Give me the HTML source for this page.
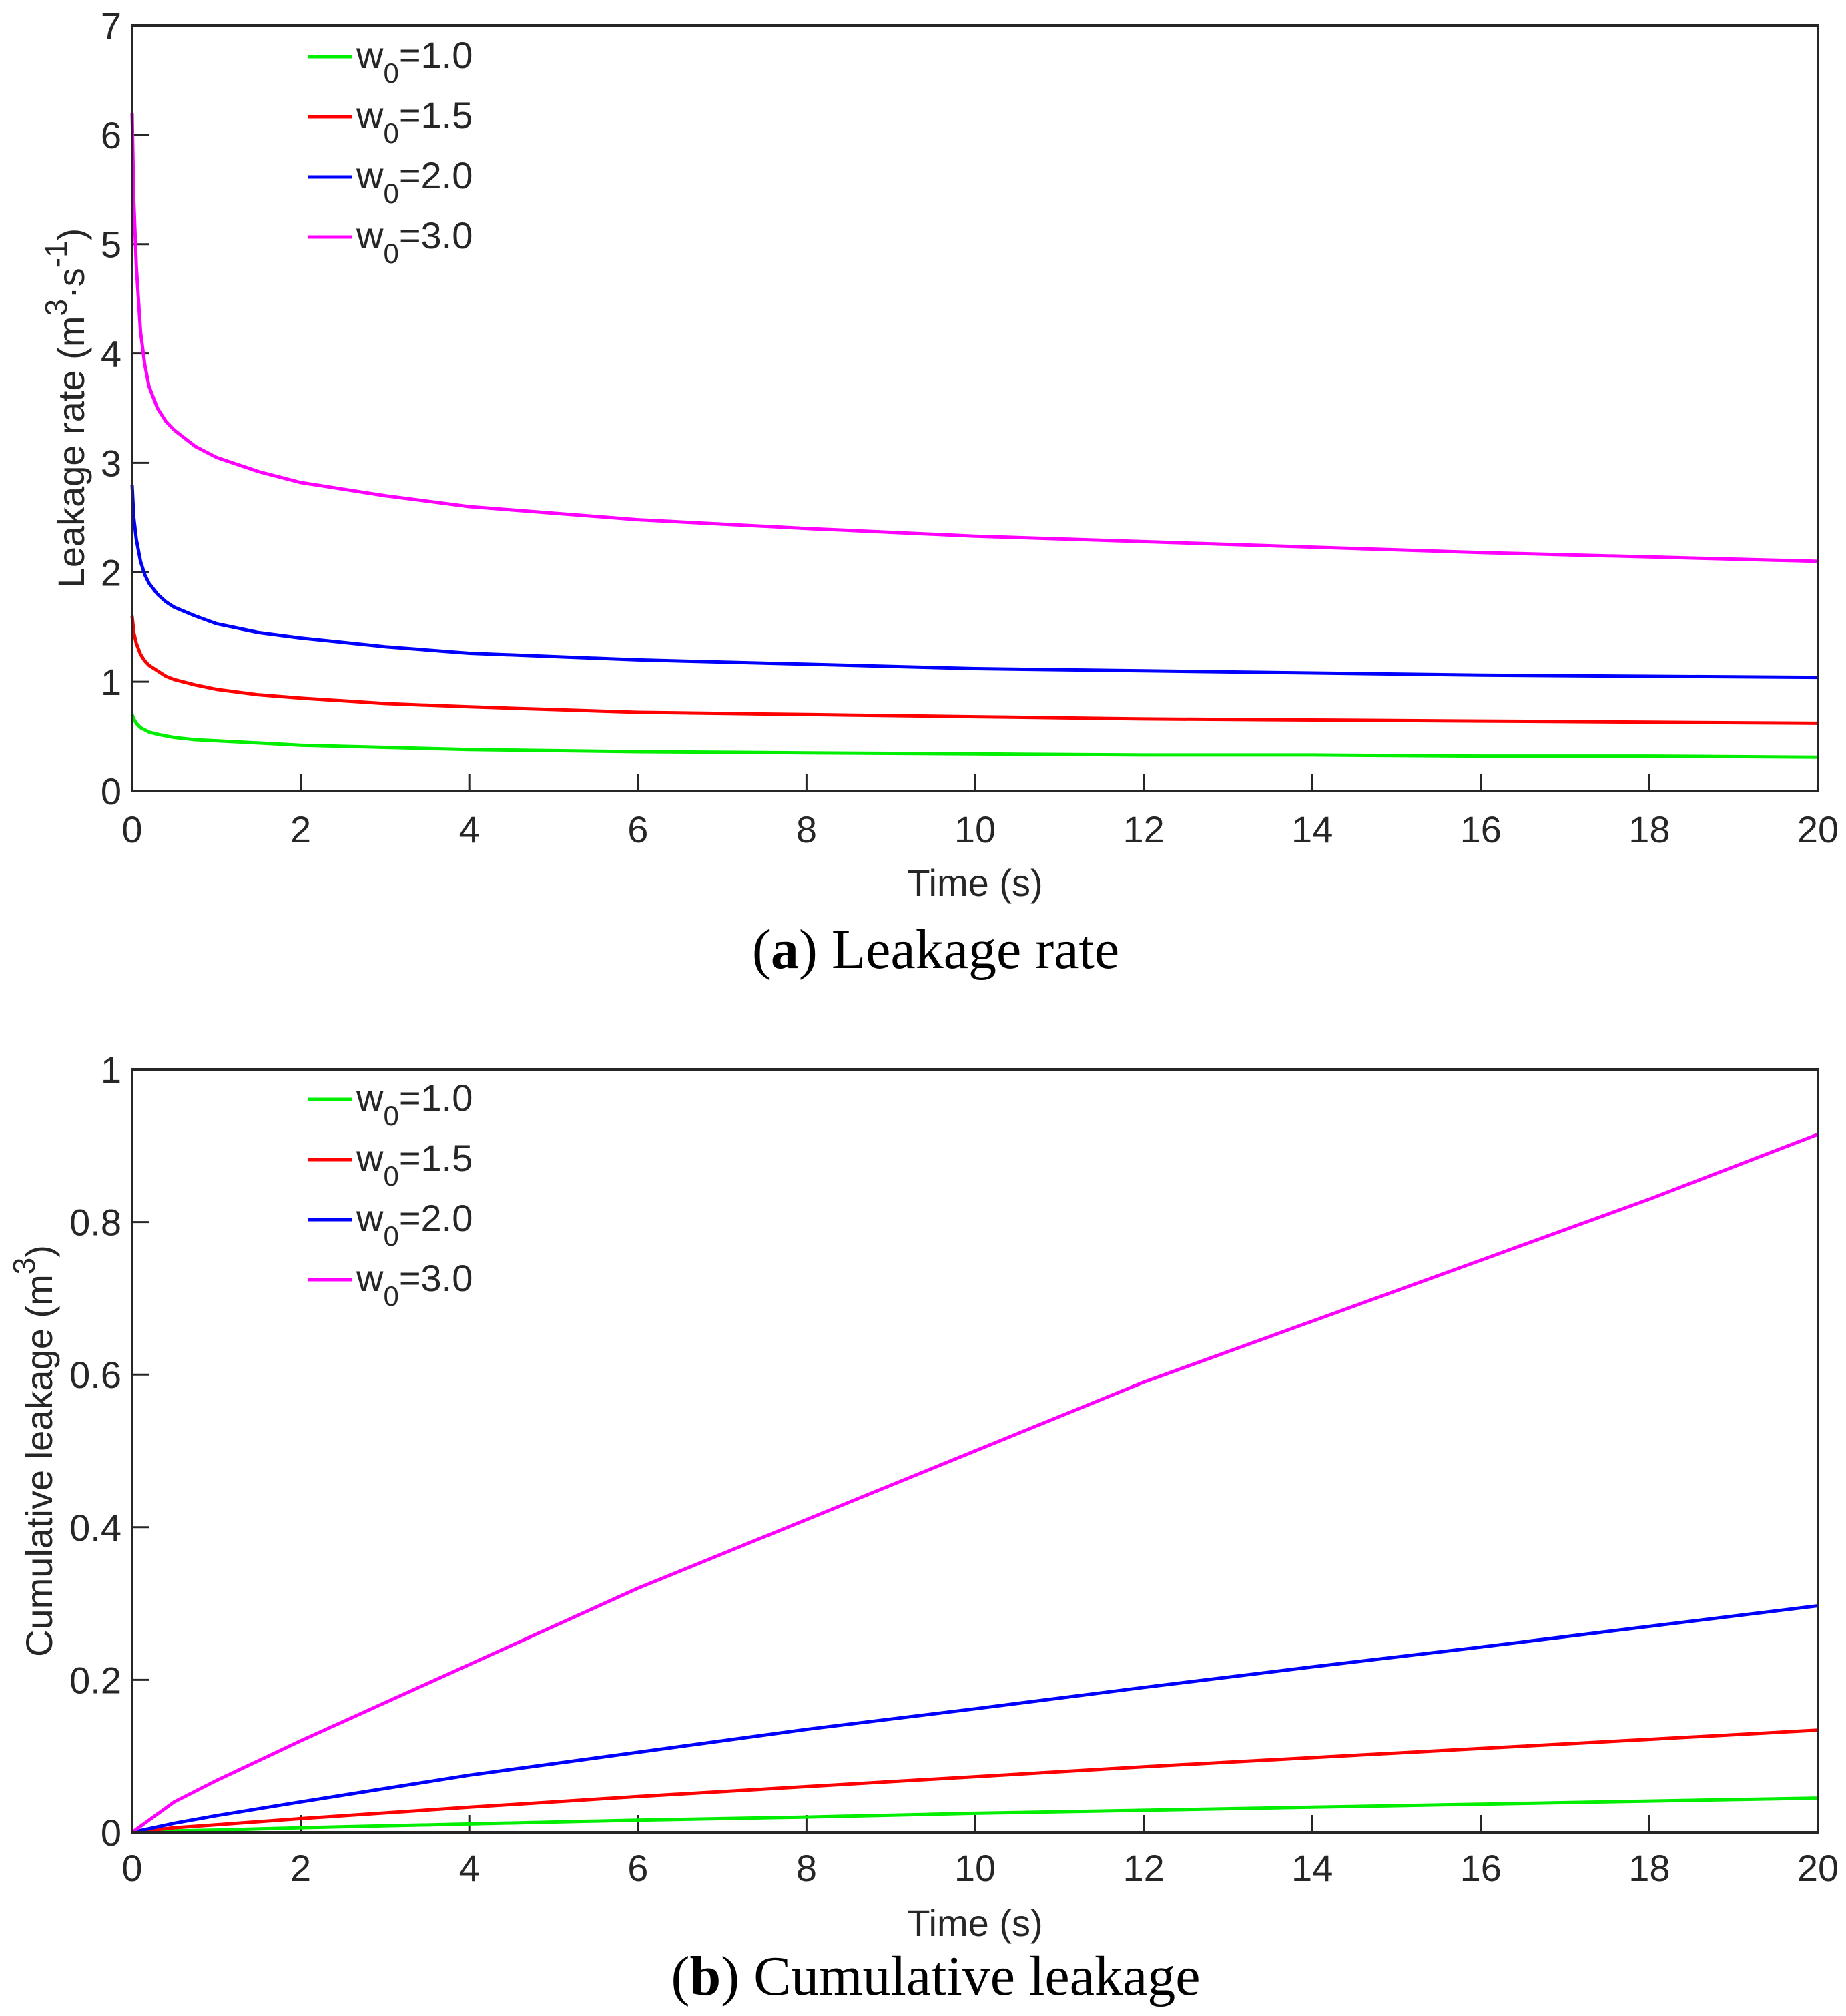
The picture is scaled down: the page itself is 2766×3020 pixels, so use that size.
<!DOCTYPE html>
<html><head><meta charset="utf-8"><style>
html,body{margin:0;padding:0;background:#fff;}
svg{display:block;font-family:"Liberation Sans",Arial,sans-serif;}
.tk{font-size:56px;fill:#262626;}
.cap{font-family:"Liberation Serif",serif;font-size:84px;fill:#000;}
</style></head><body>
<svg id="fig" width="2766" height="3020" viewBox="0 0 2766 3020">
<g id="pa"></g>
<g id="pb"></g>
<text class="cap" x="1402" y="1450" text-anchor="middle">(<tspan font-weight="bold">a</tspan>) Leakage rate</text>
<text class="cap" x="1402" y="2988" text-anchor="middle">(<tspan font-weight="bold">b</tspan>) Cumulative leakage</text>
</svg>
<script>
const seriesNames = ["w0=1.0","w0=1.5","w0=2.0","w0=3.0"];
const seriesColors = ["#00ee00","#ff0000","#0000ff","#ff00ff"];
const xTicks = [0,2,4,6,8,10,12,14,16,18,20];
const yTicksA = [0,1,2,3,4,5,6,7];
const yTicksB = [0,0.2,0.4,0.6,0.8,1];
const yTickLabelsB = ["0","0.2","0.4","0.6","0.8","1"];
const timeA = [0,0.02,0.05,0.1,0.15,0.2,0.3,0.4,0.5,0.75,1,1.5,2,3,4,6,8,10,12,14,16,18,20];
const rateG = [0.7,0.66,0.62,0.58,0.56,0.54,0.52,0.505,0.49,0.47,0.46,0.44,0.42,0.4,0.38,0.36,0.35,0.34,0.33,0.33,0.32,0.32,0.31];
const rateR = [1.6,1.45,1.35,1.25,1.19,1.15,1.1,1.05,1.02,0.97,0.93,0.88,0.85,0.8,0.77,0.72,0.7,0.68,0.66,0.65,0.64,0.63,0.62];
const rateB = [2.8,2.5,2.3,2.1,1.98,1.9,1.8,1.73,1.68,1.6,1.53,1.45,1.4,1.32,1.26,1.2,1.16,1.12,1.1,1.08,1.06,1.05,1.04];
const rateM = [6.2,5.4,4.8,4.2,3.9,3.7,3.5,3.38,3.3,3.15,3.05,2.92,2.82,2.7,2.6,2.48,2.4,2.33,2.28,2.23,2.18,2.14,2.1];
const timeB = [0,0.5,1,2,4,6,8,10,12,14,16,18,20];
const cumG = [0,0.002,0.003,0.006,0.011,0.016,0.02,0.025,0.029,0.033,0.037,0.041,0.045];
const cumR = [0,0.006,0.01,0.018,0.033,0.047,0.06,0.073,0.086,0.098,0.11,0.122,0.134];
const cumB = [0,0.012,0.022,0.04,0.075,0.105,0.135,0.162,0.19,0.217,0.243,0.27,0.297];
const cumM = [0,0.04,0.068,0.12,0.22,0.32,0.41,0.5,0.59,0.67,0.75,0.83,0.915];

const NS="http://www.w3.org/2000/svg";
function mk(parent,tag,attrs){const e=document.createElementNS(NS,tag);for(const k in attrs)e.setAttribute(k,attrs[k]);parent.appendChild(e);return e;}

function chart(g,top,bottom,ymax,yTicks,yLabels,time,series,ylabelParts,ylabelX,legY,xLabelY,xTickY){
  const L=198,R=2724;
  const sx=v=>L+(v/20)*(R-L);
  const sy=v=>bottom-(v/ymax)*(bottom-top);
  xTicks.forEach(t=>{
    const ln=mk(g,'line',{x1:sx(t),x2:sx(t),y1:bottom,y2:bottom-26,stroke:'#262626','stroke-width':3});
    
    
    const tx=mk(g,'text',{x:sx(t),y:xTickY,'text-anchor':'middle',class:'tk'});
    tx.textContent=t;
    
    
  });
  yTicks.forEach((t,i)=>{
    const ln=mk(g,'line',{x1:L,x2:L+26,y1:sy(t),y2:sy(t),stroke:'#262626','stroke-width':3});
    
    
    const tx=mk(g,'text',{x:L-16,y:sy(t)+20,'text-anchor':'end',class:'tk'});
    tx.textContent=yLabels[i];
    
    
  });
  series.forEach((s,i)=>{
    const d=time.map((t,j)=>(j?'L':'M')+sx(t).toFixed(1)+','+sy(s[j]).toFixed(1)).join(' ');
    const p=mk(g,'path',{d:d,fill:'none',stroke:seriesColors[i],'stroke-width':5,'stroke-linejoin':'round'});
    
    
  });
  const fr=mk(g,'rect',{x:L,y:top,width:R-L,height:bottom-top,fill:'none',stroke:'#262626','stroke-width':4});
  
  
  seriesNames.forEach((n,i)=>{
    const y=legY+i*90;
    const ln=mk(g,'line',{x1:461,x2:528,y1:y,y2:y,stroke:seriesColors[i],'stroke-width':5});
    
    
    const tx=mk(g,'text',{x:534,y:y+17,class:'tk','font-size':50});
    tx.innerHTML='w<tspan dy="22" font-size="42">0</tspan><tspan dy="-22">='+n.split('=')[1]+'</tspan>';
    
    
  });
  const xl=mk(g,'text',{x:(L+R)/2,y:xLabelY,'text-anchor':'middle',class:'tk','font-size':64});
  xl.textContent='Time (s)';
  
  
  const cy=(top+bottom)/2;
  const yl=mk(g,'text',{x:0,y:0,'text-anchor':'middle',class:'tk','font-size':64,transform:'translate('+ylabelX+','+cy+') rotate(-90)'});
  yl.innerHTML=ylabelParts;
  
  
}
chart(document.getElementById('pa'),38,1185,7,yTicksA,yTicksA.map(String),timeA,[rateG,rateR,rateB,rateM],
 'Leakage rate (m<tspan dy="-26" font-size="46">3</tspan><tspan dy="26">·s</tspan><tspan dy="-26" font-size="46">-1</tspan><tspan dy="26">)</tspan>',126,85,1342,1262);
chart(document.getElementById('pb'),1602,2745,1,yTicksB,yTickLabelsB,timeB,[cumG,cumR,cumB,cumM],
 'Cumulative leakage (m<tspan dy="-26" font-size="46">3</tspan><tspan dy="26">)</tspan>',78,1647,2900,2818);
</script>
</body></html>
